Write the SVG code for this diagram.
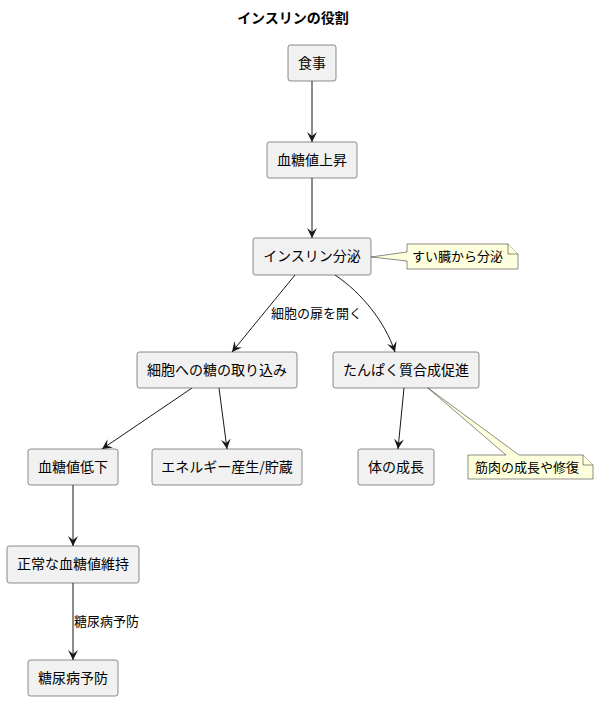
<svg xmlns="http://www.w3.org/2000/svg" width="599" height="701" viewBox="0 0 599 701">
<defs>
<style>
.box{fill:#F1F1F1;stroke:#181818;stroke-width:0.5;}
.note{fill:#FEFFDD;stroke:#181818;stroke-width:0.5;}
.t{font-family:"Noto Sans CJK JP","Noto Sans",sans-serif;font-size:14px;fill:#000;text-anchor:middle;}
.lt{font-family:"Noto Sans CJK JP","Noto Sans",sans-serif;font-size:13px;fill:#000;}
.e{fill:none;stroke:#181818;stroke-width:1;}
</style>
<marker id="arr" viewBox="0 0 12 10" refX="10" refY="5" markerWidth="12" markerHeight="10" markerUnits="userSpaceOnUse" orient="auto">
<path d="M0,0 L10,5 L0,10 L4,5 Z" fill="#181818"/>
</marker>
</defs>
<rect width="599" height="701" fill="#FFFFFF"/>
<text x="293" y="23" class="t" style="font-weight:bold">インスリンの役割</text>

<g id="connectors">
<path class="e" d="M312,81 L312,142" marker-end="url(#arr)"/>
<path class="e" d="M312,178 L312,238" marker-end="url(#arr)"/>
<path class="e" d="M295,275 L232,352" marker-end="url(#arr)"/>
<path class="e" d="M335,275 C362,293 385,322 395,352" marker-end="url(#arr)"/>
<path class="e" d="M192,388 L102,449" marker-end="url(#arr)"/>
<path class="e" d="M219,388 L227,449" marker-end="url(#arr)"/>
<path class="e" d="M404,388 L398,449" marker-end="url(#arr)"/>
<path class="e" d="M73,485 L73,546" marker-end="url(#arr)"/>
<path class="e" d="M73,583 L73,660" marker-end="url(#arr)"/>
<text x="271" y="318" class="lt">細胞の扉を開く</text>
<text x="74" y="626" class="lt">糖尿病予防</text>
</g>

<g id="n1"><rect class="box" x="288" y="45" width="48" height="36" rx="2.5"/><text x="312" y="68" class="t">食事</text></g>
<g id="n2"><rect class="box" x="267" y="142" width="90" height="36" rx="2.5"/><text x="312" y="165" class="t">血糖値上昇</text></g>
<g id="n3"><rect class="box" x="253" y="238" width="118" height="37" rx="2.5"/><text x="312" y="261" class="t">インスリン分泌</text></g>
<g id="note1">
<path class="note" d="M407,244 L508,244 L518,254 L518,269 L407,269 L407,261 L371,257 L407,252 Z"/>
<path class="note" d="M508,244 L508,254 L518,254"/>
<text x="412" y="261" class="lt">すい臓から分泌</text>
</g>
<g id="n4"><rect class="box" x="137" y="352" width="160" height="36" rx="2.5"/><text x="217" y="375" class="t">細胞への糖の取り込み</text></g>
<g id="n5"><rect class="box" x="333" y="352" width="146" height="36" rx="2.5"/><text x="406" y="375" class="t">たんぱく質合成促進</text></g>
<g id="n6"><rect class="box" x="28" y="449" width="90" height="36" rx="2.5"/><text x="73" y="472" class="t">血糖値低下</text></g>
<g id="n7"><rect class="box" x="152" y="449" width="150" height="36" rx="2.5"/><text x="227" y="472" class="t">エネルギー産生/貯蔵</text></g>
<g id="n8"><rect class="box" x="358" y="449" width="76" height="36" rx="2.5"/><text x="396" y="472" class="t">体の成長</text></g>
<g id="note2">
<path class="note" d="M468,455 L506,455 L428,388 L519,455 L583,455 L593,465 L593,479 L468,479 Z"/>
<path class="note" d="M583,455 L583,465 L593,465"/>
<text x="475" y="472" class="lt">筋肉の成長や修復</text>
</g>
<g id="n9"><rect class="box" x="7" y="546" width="132" height="37" rx="2.5"/><text x="73" y="569" class="t">正常な血糖値維持</text></g>
<g id="n10"><rect class="box" x="28" y="660" width="90" height="36" rx="2.5"/><text x="73" y="683" class="t">糖尿病予防</text></g>
</svg>
